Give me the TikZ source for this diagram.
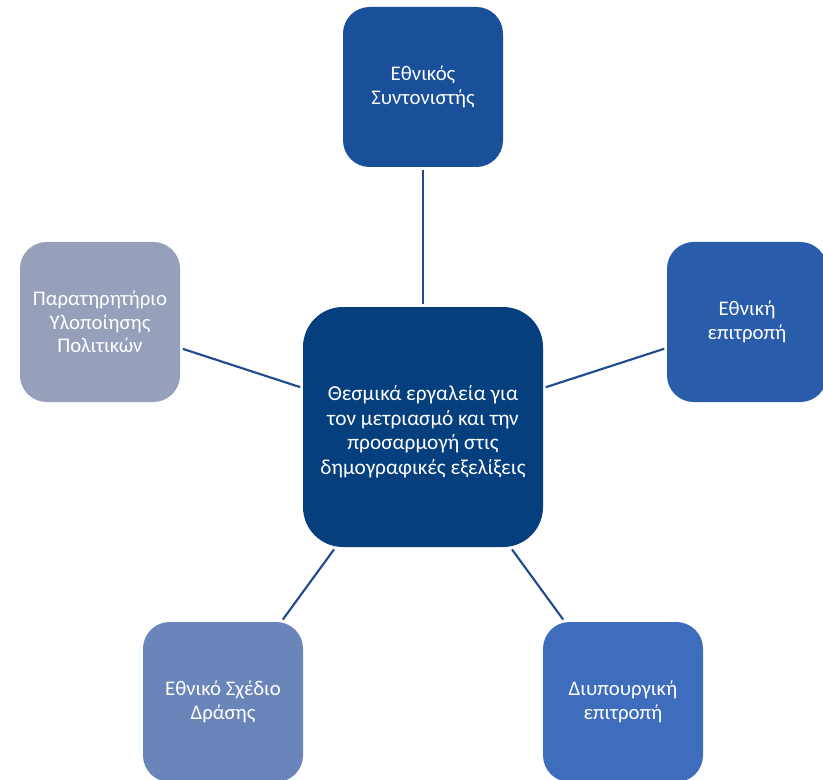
\documentclass[tikz,border=0pt]{standalone}
\usepackage{fontspec}
\setmainfont{Carlito}
\definecolor{cCenter}{HTML}{063F7D}
\definecolor{cTop}{HTML}{1A4F99}
\definecolor{cRight}{HTML}{295DAC}
\definecolor{cLeft}{HTML}{97A0BA}
\definecolor{cBL}{HTML}{6A85BA}
\definecolor{cBR}{HTML}{3F6DBE}
\definecolor{cLine}{HTML}{1F4C8C}
\begin{document}
\begin{tikzpicture}[x=0.75pt,y=-0.75pt,
  outerbox/.style={rectangle,rounded corners=20pt,minimum width=120pt,minimum height=120pt,
    inner sep=2pt,text=white,align=center,font=\fontsize{15.6}{17.5}\selectfont},
  centerbox/.style={rectangle,rounded corners=30pt,minimum width=180pt,minimum height=180pt,
    inner sep=2pt,text=white,align=center,fill=cCenter,font=\fontsize{16}{18.3}\selectfont},
  conn/.style={draw=cLine,line width=1.6pt,shorten <=2pt,shorten >=2pt}]
\clip (0,0) rectangle (823,780);
\fill[white] (0,0) rectangle (823,780);
\node[centerbox] (c) at (423,427) {\rule{0pt}{6pt}\\[-6pt]Θεσμικά εργαλεία για\\τον μετριασμό και την\\προσαρμογή στις\\δημογραφικές εξελίξεις};
\node[outerbox,fill=cTop] (t) at (423,87) {Εθνικός\\Συντονιστής};
\node[outerbox,fill=cRight] (r) at (747,322) {Εθνική\\επιτροπή};
\node[outerbox,fill=cLeft] (l) at (100,322) {Παρατηρητήριο\\Υλοποίησης\\Πολιτικών};
\node[outerbox,fill=cBL] (bl) at (223,702) {Εθνικό Σχέδιο\\Δράσης};
\node[outerbox,fill=cBR] (br) at (623,702) {Διυπουργική\\επιτροπή};
\draw[conn] (c) -- (t);
\draw[conn] (c) -- (r);
\draw[conn] (c) -- (l);
\draw[conn] (c) -- (bl);
\draw[conn] (c) -- (br);
\end{tikzpicture}
\end{document}
